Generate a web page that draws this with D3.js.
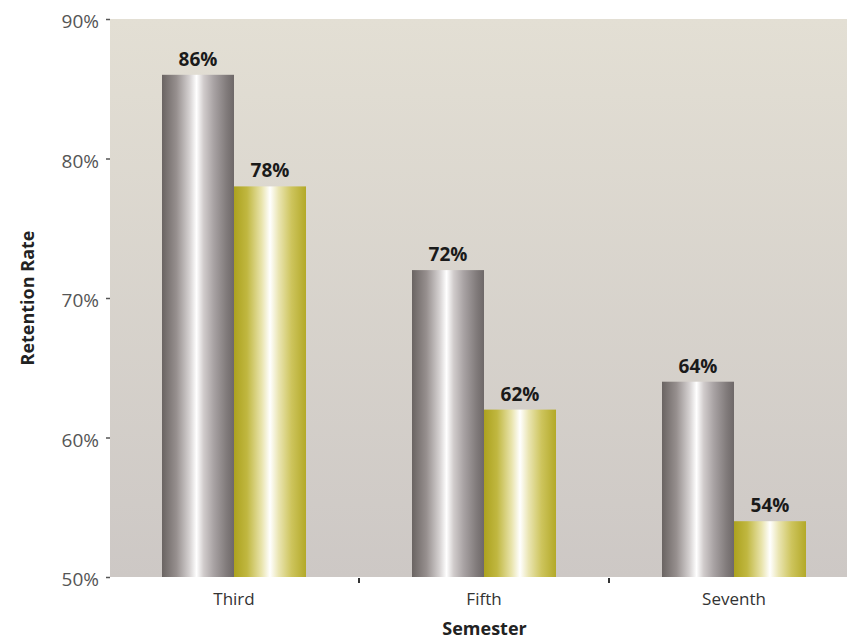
<!DOCTYPE html>
<html>
<head>
<meta charset="utf-8">
<style>
  body { margin: 0; background: #fff; }
  svg text { font-family: "Open Sans", Lato, sans-serif; }
</style>
</head>
<body>
<div id="chart"></div>
<script src="https://d3js.org/d3.v7.min.js"></script>
<script>
// ---- data ----
var semesters = ["Third", "Fifth", "Seventh"];
var seriesA = [86, 72, 64];   // grey bars
var seriesB = [78, 62, 54];   // yellow bars
var yTicks = [50, 60, 70, 80, 90];

var W = 847, H = 643;
var plot = { left: 110, top: 19, right: 859, bottom: 577 };

var svg = d3.select("#chart").append("svg")
  .attr("width", W)
  .attr("height", H);

var defs = svg.append("defs");

// background gradient
var bg = defs.append("linearGradient").attr("id", "bgGrad")
  .attr("x1", 0).attr("y1", 0).attr("x2", 0).attr("y2", 1);
bg.append("stop").attr("offset", "0%").attr("stop-color", "#e3dfd4");
bg.append("stop").attr("offset", "100%").attr("stop-color", "#cdc8c5");

// grey metallic gradient
var gG = defs.append("linearGradient").attr("id", "greyGrad")
  .attr("x1", 0).attr("y1", 0).attr("x2", 1).attr("y2", 0);
[["0%", "#6a6462"], ["20%", "#968f8e"], ["38%", "#d4d0d0"], ["48%", "#ffffff"],
 ["58%", "#d0cbcb"], ["72%", "#a8a2a3"], ["90%", "#807a7a"], ["100%", "#6e6868"]]
  .forEach(function(s) { gG.append("stop").attr("offset", s[0]).attr("stop-color", s[1]); });

// yellow metallic gradient
var yG = defs.append("linearGradient").attr("id", "yellowGrad")
  .attr("x1", 0).attr("y1", 0).attr("x2", 1).attr("y2", 0);
[["0%", "#aca21e"], ["18%", "#c0b740"], ["38%", "#e8e3aa"], ["50%", "#ffffff"],
 ["62%", "#eae5b2"], ["80%", "#cdc45c"], ["100%", "#b3a928"]]
  .forEach(function(s) { yG.append("stop").attr("offset", s[0]).attr("stop-color", s[1]); });

// scales
var x = d3.scaleBand()
  .domain(semesters)
  .range([plot.left - 1, plot.right])
  .padding(0);

var y = d3.scaleLinear()
  .domain([50, 90])
  .range([plot.bottom, plot.top]);

var barW = 72;

// plot background
svg.append("rect")
  .attr("x", plot.left)
  .attr("y", plot.top)
  .attr("width", W - plot.left)
  .attr("height", plot.bottom - plot.top)
  .attr("fill", "url(#bgGrad)");

// bars
var groups = svg.selectAll(".grp")
  .data(semesters)
  .enter().append("g")
  .attr("class", "grp");

groups.append("rect")
  .attr("x", function(d) { return x(d) + x.bandwidth() / 2 - barW; })
  .attr("y", function(d, i) { return y(seriesA[i]); })
  .attr("width", barW)
  .attr("height", function(d, i) { return y(50) - y(seriesA[i]); })
  .attr("fill", "url(#greyGrad)");

groups.append("rect")
  .attr("x", function(d) { return x(d) + x.bandwidth() / 2; })
  .attr("y", function(d, i) { return y(seriesB[i]); })
  .attr("width", barW)
  .attr("height", function(d, i) { return y(50) - y(seriesB[i]); })
  .attr("fill", "url(#yellowGrad)");

// value labels
groups.append("text")
  .attr("x", function(d) { return x(d) + x.bandwidth() / 2 - barW / 2; })
  .attr("y", function(d, i) { return y(seriesA[i]) - 9; })
  .attr("text-anchor", "middle")
  .attr("font-size", 19)
  .attr("font-weight", "bold")
  .attr("fill", "#1a1a1a")
  .text(function(d, i) { return seriesA[i] + "%"; });

groups.append("text")
  .attr("x", function(d) { return x(d) + x.bandwidth() / 2 + barW / 2; })
  .attr("y", function(d, i) { return y(seriesB[i]) - 9; })
  .attr("text-anchor", "middle")
  .attr("font-size", 19)
  .attr("font-weight", "bold")
  .attr("fill", "#1a1a1a")
  .text(function(d, i) { return seriesB[i] + "%"; });

// y axis (ticks only)
var yAxis = svg.append("g")
  .attr("transform", "translate(" + plot.left + ",0)")
  .call(d3.axisLeft(y).tickValues(yTicks).tickSize(4).tickPadding(7)
    .tickFormat(function(d) { return d + "%"; }));
yAxis.select(".domain").remove();
yAxis.selectAll(".tick line").attr("stroke", "#555").attr("stroke-width", 1.5);
yAxis.selectAll(".tick text")
  .attr("font-size", 19)
  .attr("dy", "0.45em")
  .attr("fill", "#555")
  .style("font-family", "'Open Sans', Lato, sans-serif");

// x axis
var xAxis = svg.append("g")
  .attr("transform", "translate(0," + plot.bottom + ")")
  .call(d3.axisBottom(x).tickSize(0).tickPadding(16));
xAxis.select(".domain").remove();
xAxis.selectAll(".tick text")
  .attr("font-size", 17)
  .attr("fill", "#333")
  .style("font-family", "'Open Sans', Lato, sans-serif");

// tick marks between categories
svg.selectAll(".sep")
  .data(semesters.slice(1))
  .enter().append("line")
  .attr("x1", function(d) { return x(d); })
  .attr("x2", function(d) { return x(d); })
  .attr("y1", plot.bottom + 1)
  .attr("y2", plot.bottom + 6)
  .attr("stroke", "#333")
  .attr("stroke-width", 2);

// axis titles
svg.append("text")
  .attr("x", (plot.left + plot.right) / 2)
  .attr("y", 635)
  .attr("text-anchor", "middle")
  .attr("font-size", 18)
  .attr("font-weight", "bold")
  .attr("fill", "#222")
  .text("Semester");

svg.append("text")
  .attr("transform", "translate(34," + (plot.top + plot.bottom) / 2 + ") rotate(-90)")
  .attr("text-anchor", "middle")
  .attr("font-size", 18)
  .attr("font-weight", "bold")
  .attr("fill", "#222")
  .text("Retention Rate");
</script>
</body>
</html>
